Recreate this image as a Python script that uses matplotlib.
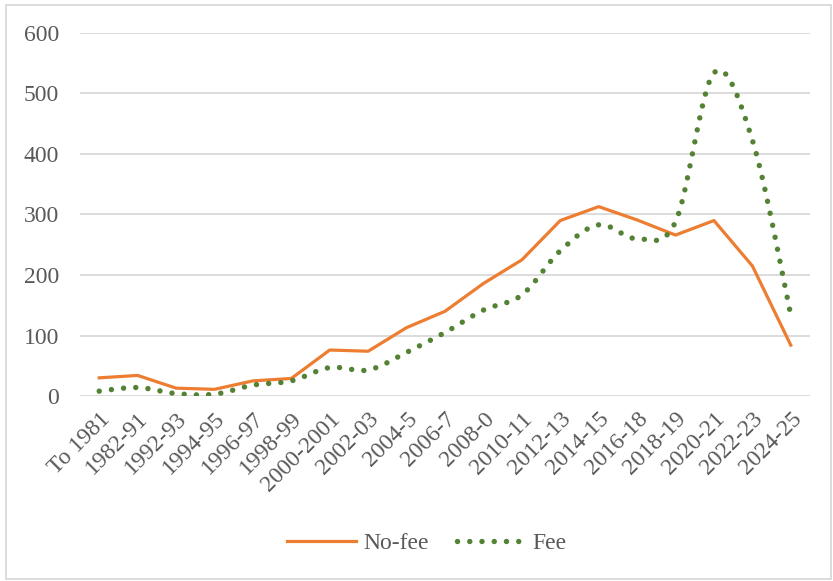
import numpy as np
import matplotlib
matplotlib.use("Agg")
import matplotlib.pyplot as plt
from matplotlib.patches import Rectangle

categories = ["To 1981", "1982-91", "1992-93", "1994-95", "1996-97", "1998-99",
              "2000-2001", "2002-03", "2004-5", "2006-7", "2008-0", "2010-11",
              "2012-13", "2014-15", "2016-18", "2018-19", "2020-21", "2022-23", "2024-25"]
no_fee = [30, 34, 13, 11, 25, 29, 76, 74, 113, 140, 186, 225, 290, 313, 291, 266, 290, 215, 84]
fee = [8, 14, 4, 3, 18, 25, 47, 43, 72, 105, 142, 167, 240, 283, 260, 288, 534, 423, 134]
yticks = [0, 100, 200, 300, 400, 500, 600]

plt.rcParams['font.family'] = ['Liberation Serif', 'DejaVu Serif']
TXT = '#595959'


def smooth(xs, ys, n=30):
    # Catmull-Rom rendering through the data points (Excel "smoothed line")
    xs = np.asarray(xs, float)
    ys = np.asarray(ys, float)
    px = np.concatenate([[xs[0]], xs, [xs[-1]]])
    py = np.concatenate([[ys[0]], ys, [ys[-1]]])
    ox, oy = [], []
    for i in range(1, len(px) - 2):
        p0 = np.array([px[i - 1], py[i - 1]])
        p1 = np.array([px[i], py[i]])
        p2 = np.array([px[i + 1], py[i + 1]])
        p3 = np.array([px[i + 2], py[i + 2]])
        c1 = p1 + (p2 - p0) / 6.0
        c2 = p2 - (p3 - p1) / 6.0
        t = np.linspace(0, 1, n, endpoint=(i == len(px) - 3))[:, None]
        pts = ((1 - t) ** 3) * p1 + 3 * ((1 - t) ** 2) * t * c1 + 3 * (1 - t) * t ** 2 * c2 + t ** 3 * p2
        ox.extend(pts[:, 0])
        oy.extend(pts[:, 1])
    return np.array(ox), np.array(oy)


fig = plt.figure(figsize=(8.33, 5.81), dpi=100)
ax = fig.add_axes([80 / 833, 1 - 396 / 581, 730 / 833, 363 / 581])

x = np.arange(len(categories))
ax.plot(x, no_fee, color='#ED7D31', lw=2.3, label='No-fee', zorder=3)
sx, sy = smooth(x, fee)
ax.plot(sx, sy, color='#548235', lw=3.9, linestyle=(0, (0.01, 2.25)),
        dash_capstyle='round', label='Fee', zorder=3)

ax.set_xlim(-0.5, len(categories) - 0.5)
ax.set_ylim(0, 600)
ax.set_yticks(yticks)
ax.set_yticklabels([str(v) for v in yticks], fontsize=17, color=TXT)
ax.set_xticks(x)
ax.set_xticklabels(categories, rotation=45, ha='right', rotation_mode='anchor',
                   fontsize=17, color=TXT)
ax.tick_params(axis='both', length=0)
ax.tick_params(axis='y', pad=15)
ax.tick_params(axis='x', pad=9)
ax.grid(axis='y', color='#D9D9D9', lw=1.3)
ax.set_axisbelow(True)
for s in ax.spines.values():
    s.set_visible(False)

fig.legend(loc='center', bbox_to_anchor=(427 / 833, 1 - 543 / 581), ncol=2, frameon=False,
           fontsize=17, handlelength=2.9, columnspacing=1.2, handletextpad=0.3,
           labelcolor=TXT)

fig.patches.append(Rectangle((6 / 833, 2 / 581), 825 / 833, 574 / 581, transform=fig.transFigure,
                             fill=False, edgecolor='#D9D9D9', lw=1.3))

fig.savefig('out.png', dpi=100)
